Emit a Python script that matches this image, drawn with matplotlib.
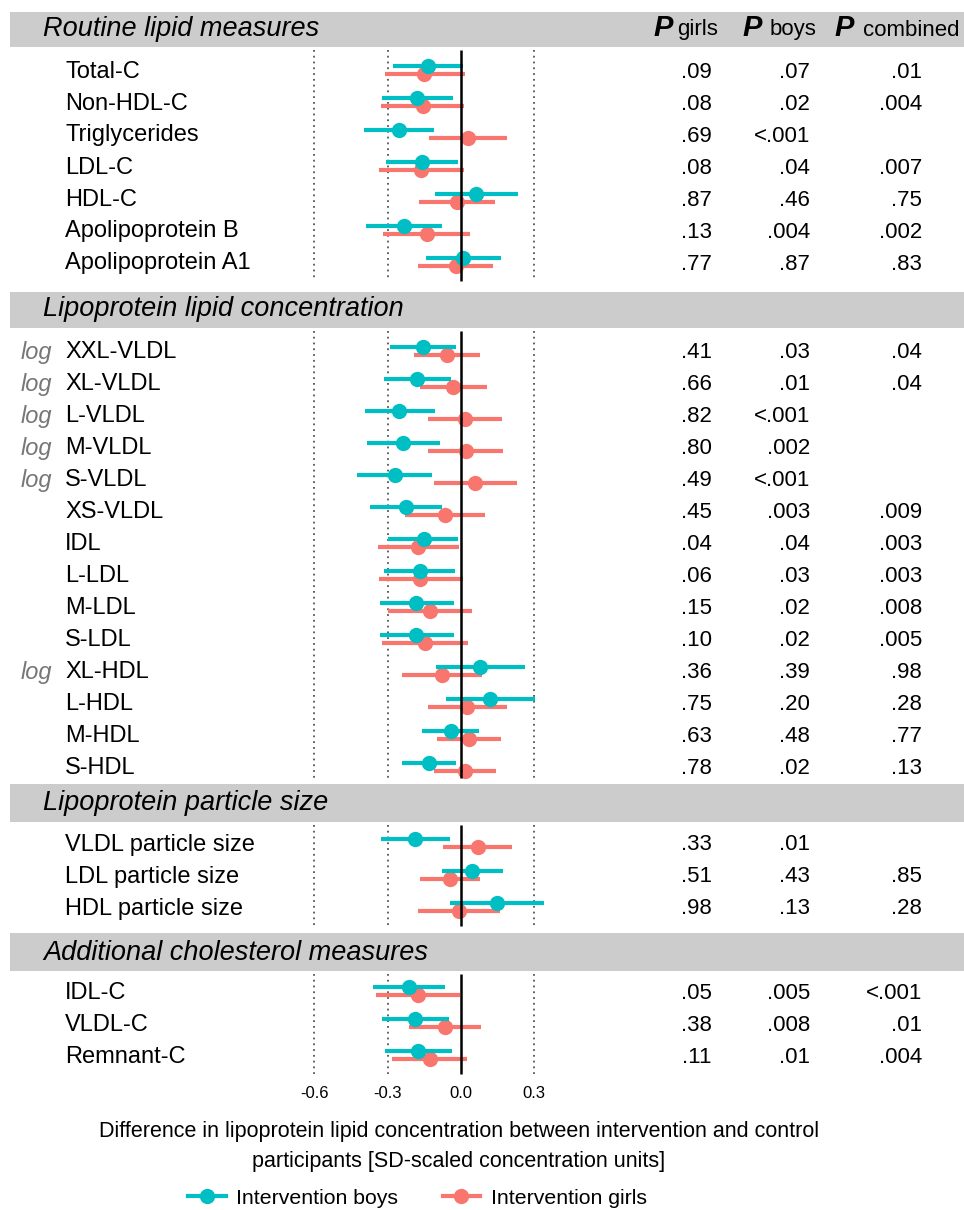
"""Forest plot: intervention effect on lipoprotein lipids, boys vs girls."""
import matplotlib
matplotlib.use("Agg")
import matplotlib.pyplot as plt
from matplotlib.lines import Line2D

plt.rcParams["font.family"] = ["Liberation Sans", "DejaVu Sans"]

# Palette
C_BOYS = "#00BFC4"
C_GIRLS = "#F8766D"
C_BAND = "#CCCCCC"
C_LOG = "#777777"
C_DOTS = "#555555"

# ── Data ────────────────────────────────────────────────────────────────────
sections = ["Routine lipid measures", "Lipoprotein lipid concentration",
            "Lipoprotein particle size", "Additional cholesterol measures"]
section_sizes = [7, 14, 3, 3]

labels = [
    "Total-C", "Non-HDL-C", "Triglycerides", "LDL-C", "HDL-C",
    "Apolipoprotein B", "Apolipoprotein A1",
    "XXL-VLDL", "XL-VLDL", "L-VLDL", "M-VLDL", "S-VLDL", "XS-VLDL", "IDL",
    "L-LDL", "M-LDL", "S-LDL", "XL-HDL", "L-HDL", "M-HDL", "S-HDL",
    "VLDL particle size", "LDL particle size", "HDL particle size",
    "IDL-C", "VLDL-C", "Remnant-C",
]
log_rows = ["XXL-VLDL", "XL-VLDL", "L-VLDL", "M-VLDL", "S-VLDL", "XL-HDL"]

boys_est = [-0.136, -0.179, -0.254, -0.158, 0.061, -0.233, 0.010,
            -0.154, -0.180, -0.252, -0.236, -0.270, -0.225, -0.153,
            -0.168, -0.183, -0.183, 0.079, 0.120, -0.041, -0.131,
            -0.187, 0.045, 0.149,
            -0.213, -0.187, -0.175]
boys_lo = [-0.280, -0.322, -0.396, -0.308, -0.108, -0.387, -0.145,
           -0.290, -0.314, -0.394, -0.385, -0.424, -0.371, -0.297,
           -0.316, -0.333, -0.333, -0.102, -0.061, -0.158, -0.243,
           -0.329, -0.079, -0.046,
           -0.359, -0.325, -0.311]
boys_hi = [0.007, -0.031, -0.109, -0.012, 0.232, -0.079, 0.165,
           -0.019, -0.042, -0.106, -0.087, -0.117, -0.079, -0.012,
           -0.023, -0.029, -0.029, 0.262, 0.303, 0.074, -0.019,
           -0.044, 0.172, 0.341,
           -0.067, -0.050, -0.038]

girls_est = [-0.150, -0.157, 0.030, -0.164, -0.018, -0.140, -0.022,
             -0.057, -0.031, 0.018, 0.020, 0.059, -0.064, -0.176,
             -0.166, -0.128, -0.147, -0.078, 0.026, 0.031, 0.016,
             0.068, -0.045, -0.007,
             -0.175, -0.065, -0.127]
girls_lo = [-0.310, -0.326, -0.130, -0.337, -0.173, -0.318, -0.175,
            -0.191, -0.168, -0.134, -0.134, -0.110, -0.228, -0.341,
            -0.337, -0.300, -0.323, -0.241, -0.136, -0.100, -0.109,
            -0.075, -0.168, -0.175,
            -0.348, -0.214, -0.282]
girls_hi = [0.016, 0.012, 0.189, 0.012, 0.140, 0.038, 0.130,
            0.078, 0.106, 0.168, 0.173, 0.228, 0.099, -0.009,
            0.007, 0.046, 0.030, 0.086, 0.189, 0.164, 0.143,
            0.209, 0.078, 0.160,
            -0.004, 0.081, 0.026]

p_girls = [".09", ".08", ".69", ".08", ".87", ".13", ".77",
           ".41", ".66", ".82", ".80", ".49", ".45", ".04",
           ".06", ".15", ".10", ".36", ".75", ".63", ".78",
           ".33", ".51", ".98",
           ".05", ".38", ".11"]
p_boys = [".07", ".02", "<.001", ".04", ".46", ".004", ".87",
          ".03", ".01", "<.001", ".002", "<.001", ".003", ".04",
          ".03", ".02", ".02", ".39", ".20", ".48", ".02",
          ".01", ".43", ".13",
          ".005", ".008", ".01"]
p_comb = [".01", ".004", "", ".007", ".75", ".002", ".83",
          ".04", ".04", "", "", "", ".009", ".003",
          ".003", ".008", ".005", ".98", ".28", ".77", ".13",
          "", ".85", ".28",
          "<.001", ".01", ".004"]

ticks = [-0.6, -0.3, 0.0, 0.3]
tick_labels = ["-0.6", "-0.3", "0.0", "0.3"]
grid_x = [-0.6, -0.3, 0.3]

# ── Layout (pixel rows, figure is 964 x 1210) ──────────────────────────────
W, H = 964, 1210
band_top = [12, 292, 784, 933]
band_bot = [47, 328, 822, 971]
first_row = [69.5, 350.5, 842.5, 991]
ROW_STEP = 32
X0_PX, PX_PER_UNIT = 461, 244.4

fig = plt.figure(figsize=(W / 100, H / 100), dpi=100)
ax = fig.add_axes([0, 0, 1, 1])
ax.set_xlim(-X0_PX / PX_PER_UNIT, (W - X0_PX) / PX_PER_UNIT)
ax.set_ylim(H, 0)
ax.axis("off")
tr = ax.get_yaxis_transform()   # x: figure fraction, y: pixel rows


def fx(p):
    return p / W


# P-value column headers
for px_p, px_w, word in [(653, 677, "girls"), (742, 770, "boys"), (834, 863, "combined")]:
    ax.text(fx(px_p), band_bot[0] - 11.5, "P", fontsize=21, fontweight="bold",
            style="italic", va="baseline", ha="left", transform=tr)
    ax.text(fx(px_w), band_bot[0] - 11.5, word, fontsize=16,
            va="baseline", ha="left", transform=tr)

k = 0
for s, title in enumerate(sections):
    ax.axhspan(band_top[s], band_bot[s], xmin=fx(10), xmax=1,
               color=C_BAND, lw=0, zorder=0)
    ax.text(fx(43), band_bot[s] - 11.5, title, fontsize=19.5, style="italic",
            va="baseline", ha="left", transform=tr)

    n = section_sizes[s]
    ys = [first_row[s] + ROW_STEP * i for i in range(n)]
    y0 = band_bot[s] + 3
    y1 = ys[-1] + 19
    if s + 1 < len(sections):
        y1 = min(y1, band_top[s + 1] - 6)

    ax.vlines(grid_x, y0, y1, colors=C_DOTS, linestyles=(0, (1, 2.2)),
              lw=1.3, zorder=1)
    ax.vlines(0, y0, y1, colors="black", lw=1.8, zorder=5)

    for y in ys:
        ax.hlines(y + 4, girls_lo[k], girls_hi[k], color=C_GIRLS, lw=3, zorder=3)
        ax.plot(girls_est[k], y + 4, "o", ms=11, color=C_GIRLS, mec="none", zorder=3)
        ax.hlines(y - 4, boys_lo[k], boys_hi[k], color=C_BOYS, lw=3, zorder=4)
        ax.plot(boys_est[k], y - 4, "o", ms=11, color=C_BOYS, mec="none", zorder=4)

        if labels[k] in log_rows:
            ax.text(fx(21), y + 8, "log", fontsize=17, style="italic",
                    color=C_LOG, va="baseline", ha="left", transform=tr)
        ax.text(fx(65), y + 8, labels[k], fontsize=17, va="baseline",
                ha="left", transform=tr)
        for col_x, vals in [(712, p_girls), (810, p_boys), (922, p_comb)]:
            ax.text(fx(col_x), y + 8, vals[k], fontsize=16, va="baseline",
                    ha="right", transform=tr)
        k += 1

# x axis tick labels
for t, lab in zip(ticks, tick_labels):
    ax.text(t, 1093, lab, fontsize=12, ha="center", va="center")

ax.text(fx(459), 1132, "Difference in lipoprotein lipid concentration between "
        "intervention and control", fontsize=15.5, ha="center", va="center",
        transform=tr)
ax.text(fx(459), 1161, "participants [SD-scaled concentration units]",
        fontsize=15.5, ha="center", va="center", transform=tr)

handles = [
    Line2D([], [], color=C_BOYS, lw=3, marker="o", ms=11, mec="none"),
    Line2D([], [], color=C_GIRLS, lw=3, marker="o", ms=11, mec="none"),
]
ax.legend(handles, ["Intervention boys", "Intervention girls"], loc="center",
          bbox_to_anchor=(417.5 / W, 1 - 1198 / H), ncol=2, frameon=False,
          fontsize=15.3, handlelength=1.75, handletextpad=0.5,
          columnspacing=2.1, borderpad=0)

fig.savefig("out.png", dpi=100)
